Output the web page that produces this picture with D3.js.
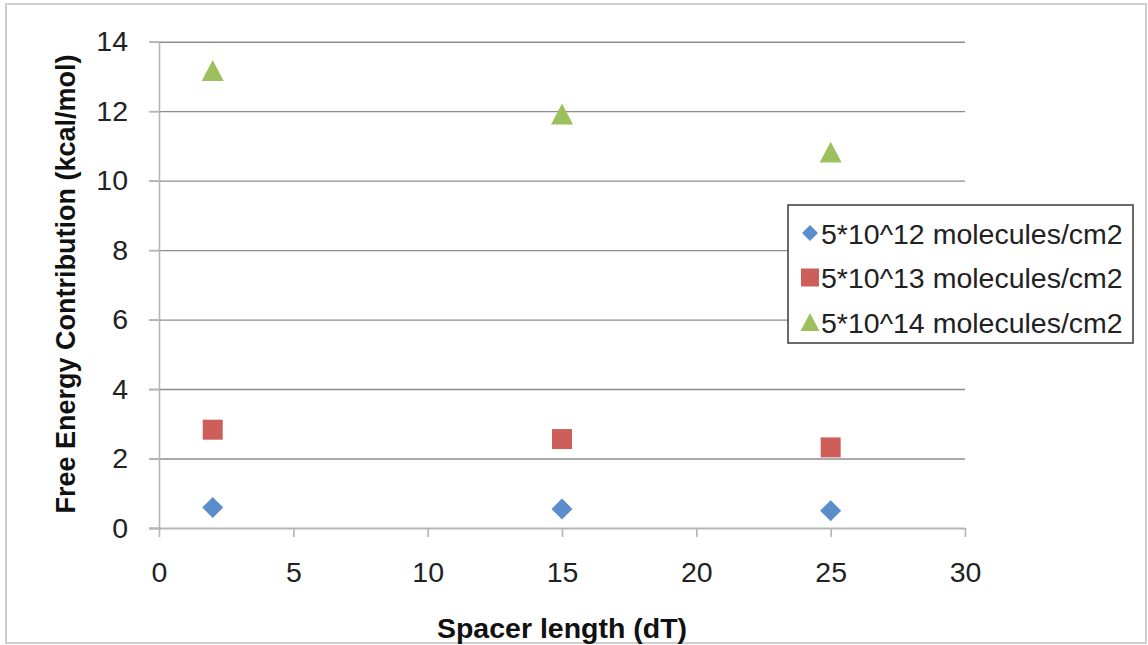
<!DOCTYPE html>
<html>
<head>
<meta charset="utf-8">
<script src="https://cdn.jsdelivr.net/npm/d3@7"></script>
<style>
  html, body { margin: 0; padding: 0; background: #fff; }
  svg { display: block; font-family: "Liberation Sans", Arial, sans-serif; }
</style>
</head>
<body>
<svg id="chart" width="1148" height="645"></svg>
<script>
// Spacer length (dT) on the x axis
const spacerLengths = [2, 15, 25];

// Free energy contribution (kcal/mol) for each surface density
const density12 = [0.59, 0.55, 0.50];
const density13 = [2.83, 2.56, 2.32];
const density14 = [13.17, 11.92, 10.82];

const seriesNames = [
  "5*10^12 molecules/cm2",
  "5*10^13 molecules/cm2",
  "5*10^14 molecules/cm2"
];
const seriesColors = ["#5b8dcd", "#cd5e5a", "#9dc05c"];

const xTicks = [0, 5, 10, 15, 20, 25, 30];
const yTicks = [0, 2, 4, 6, 8, 10, 12, 14];

const xTitle = "Spacer length (dT)";
const yTitle = "Free Energy Contribution (kcal/mol)";

// marker shapes; "size" is the full width of the marker in pixels
const diamond = {
  draw(ctx, s) {
    const r = s / 2;
    ctx.moveTo(0, -r); ctx.lineTo(r, 0); ctx.lineTo(0, r); ctx.lineTo(-r, 0); ctx.closePath();
  }
};
const square = {
  draw(ctx, s) {
    const r = s / 2;
    ctx.moveTo(-r, -r); ctx.lineTo(r, -r); ctx.lineTo(r, r); ctx.lineTo(-r, r); ctx.closePath();
  }
};
const triangle = {
  draw(ctx, s) {
    const r = s / 2, h = s * 0.95 / 2;
    ctx.moveTo(0, -h); ctx.lineTo(r, h); ctx.lineTo(-r, h); ctx.closePath();
  }
};
const seriesShapes = [diamond, square, triangle];
const plotSizes = [21, 20, 22];
const legendSizes = [16, 18, 19];

const series = [density12, density13, density14].map((vals, i) => ({
  name: seriesNames[i],
  color: seriesColors[i],
  shape: seriesShapes[i],
  size: plotSizes[i],
  legendSize: legendSizes[i],
  points: spacerLengths.map((x, j) => ({ x, y: vals[j] }))
}));

const svg = d3.select("#chart");

// outer frame
svg.append("rect")
  .attr("x", 6).attr("y", 4)
  .attr("width", 1140).attr("height", 639)
  .attr("fill", "#fff")
  .attr("stroke", "#cfcfcf")
  .attr("stroke-width", 2);

const plot = { left: 159, right: 965, top: 41.7, bottom: 528 };

const x = d3.scaleLinear().domain([0, 30]).range([plot.left, plot.right]);
const y = d3.scaleLinear().domain([0, 14]).range([plot.bottom, plot.top]);

const tickFont = 28.5;

// horizontal gridlines, running a little past the y axis
svg.append("g")
  .attr("transform", `translate(${plot.right},0)`)
  .call(d3.axisLeft(y).tickValues(yTicks.filter(v => v > 0))
    .tickSize(plot.right - plot.left + 10).tickFormat(""))
  .call(g => g.select(".domain").remove())
  .call(g => g.selectAll(".tick line")
    .attr("stroke", "#8c8c8c").attr("stroke-width", 1.4));

// y axis with labels
svg.append("g")
  .attr("transform", `translate(${plot.left},0)`)
  .call(d3.axisLeft(y).tickValues(yTicks).tickSize(10).tickPadding(21)
    .tickFormat(d3.format("d")))
  .call(g => g.select(".domain").attr("stroke", "#b5b5b5").attr("stroke-width", 1.6))
  .call(g => g.selectAll(".tick line").attr("stroke", "#b5b5b5").attr("stroke-width", 1.6))
  .call(g => g.selectAll(".tick text")
    .attr("font-size", tickFont)
    .attr("font-family", "Liberation Sans, Arial, sans-serif")
    .attr("fill", "#222"));

// x axis
svg.append("g")
  .attr("transform", `translate(0,${plot.bottom})`)
  .call(d3.axisBottom(x).tickValues(xTicks).tickSize(9).tickPadding(25)
    .tickSizeOuter(0).tickFormat(d3.format("d")))
  .call(g => g.select(".domain")
    .attr("d", `M${plot.left - 10},0.5H${plot.right}`)
    .attr("stroke", "#b5b5b5").attr("stroke-width", 2.2))
  .call(g => g.selectAll(".tick line").attr("stroke", "#b5b5b5").attr("stroke-width", 1.6))
  .call(g => g.selectAll(".tick text")
    .attr("font-size", tickFont)
    .attr("font-family", "Liberation Sans, Arial, sans-serif")
    .attr("fill", "#222"));

// axis titles
svg.append("text")
  .attr("x", 562).attr("y", 638)
  .attr("text-anchor", "middle")
  .attr("font-size", 28.5).attr("font-weight", "bold")
  .attr("fill", "#111")
  .text(xTitle);

svg.append("text")
  .attr("transform", `translate(75,284) rotate(-90)`)
  .attr("text-anchor", "middle")
  .attr("font-size", 27).attr("font-weight", "bold")
  .attr("fill", "#111")
  .text(yTitle);

// data markers
series.forEach(s => {
  svg.append("g")
    .selectAll("path")
    .data(s.points)
    .join("path")
    .attr("transform", d => `translate(${x(d.x)},${y(d.y)})`)
    .attr("d", d3.symbol().type(s.shape).size(s.size))
    .attr("fill", s.color);
});

// legend
const legend = svg.append("g");
legend.append("rect")
  .attr("x", 788).attr("y", 205)
  .attr("width", 345).attr("height", 138)
  .attr("fill", "#fff")
  .attr("stroke", "#3a3a3a")
  .attr("stroke-width", 1.5);

series.forEach((s, i) => {
  const cy = 233 + i * 44.5;
  legend.append("path")
    .attr("transform", `translate(810,${cy})`)
    .attr("d", d3.symbol().type(s.shape).size(s.legendSize))
    .attr("fill", s.color);
  legend.append("text")
    .attr("x", 821).attr("y", cy + 10.5)
    .attr("font-size", 28.5)
    .attr("fill", "#222")
    .text(s.name);
});
</script>
</body>
</html>
